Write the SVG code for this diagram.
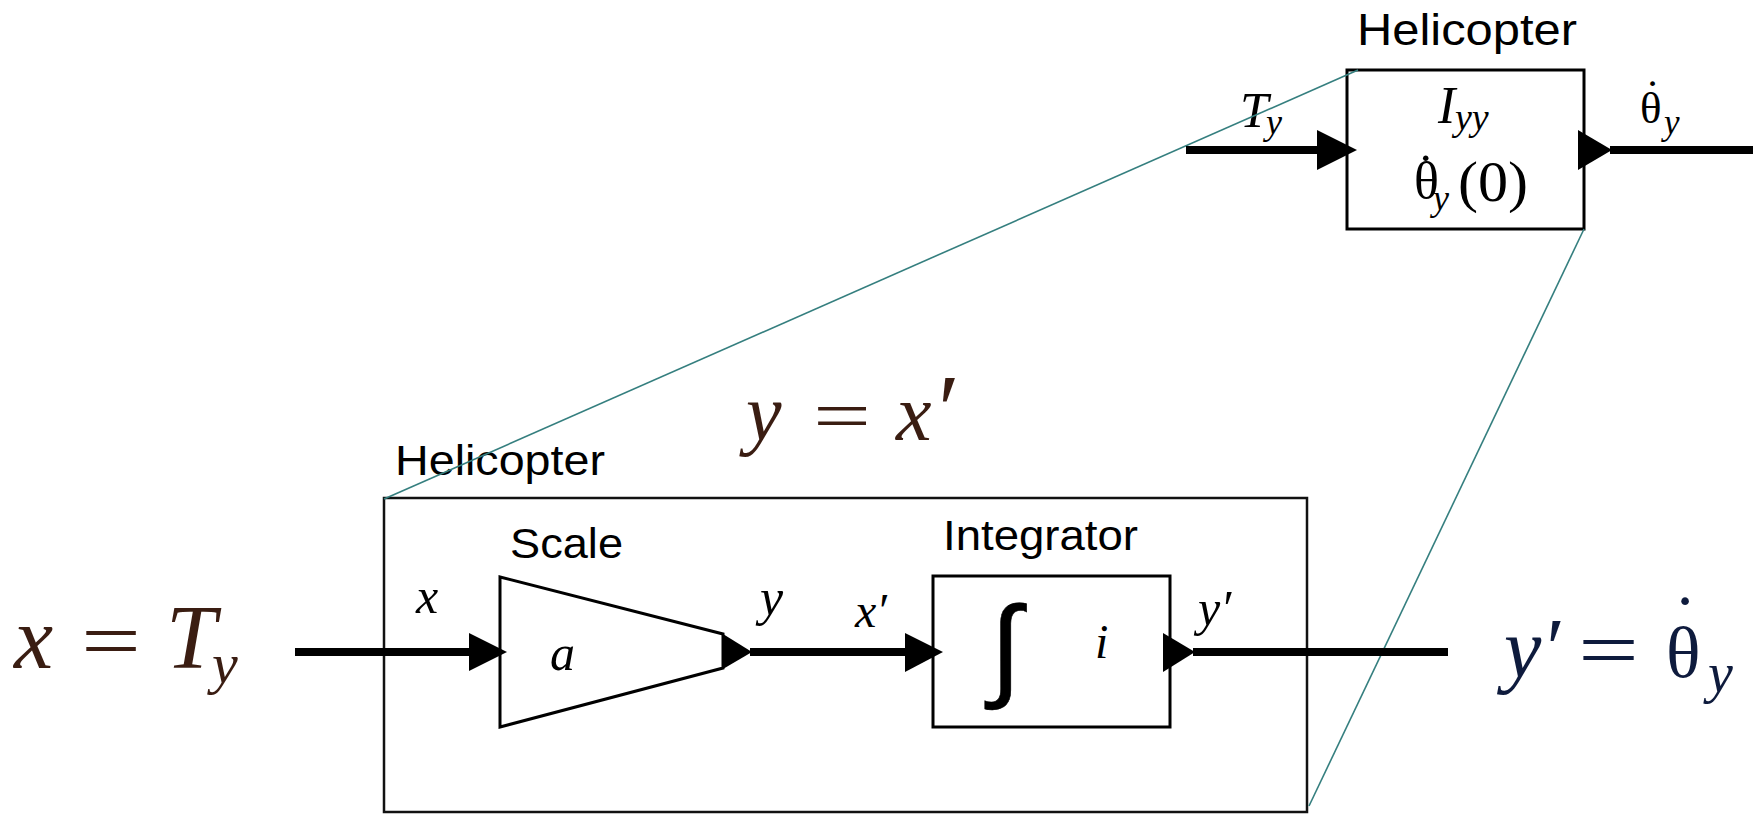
<svg xmlns="http://www.w3.org/2000/svg" width="1762" height="815" viewBox="0 0 1762 815">
<style>
.box{fill:none;stroke:#000;stroke-width:3}
.big{fill:none;stroke:#111;stroke-width:2.5}
.wire{stroke:#000;stroke-width:8;fill:none}
.head{fill:#000}
.teal{stroke:#357f7f;stroke-width:1.6;fill:none}
.sans{font-family:"Liberation Sans",Arial,sans-serif}
.math{font-family:"Liberation Serif","Times New Roman",serif}
.it{font-style:italic}
.up{font-style:normal}
.brown{fill:#3a1d12}
.navy{fill:#0e1b3d}
</style>
<rect width="1762" height="815" fill="#fff"/>

<g id="top-helicopter">
  <rect class="box" x="1347" y="70" width="237" height="159"/>
  <text class="sans" x="1357" y="45" font-size="45" textLength="220" lengthAdjust="spacingAndGlyphs">Helicopter</text>
  <text class="math it" x="1438" y="123" font-size="52">I<tspan x="1455" y="130" font-size="38">yy</tspan></text>
  <text class="math" x="1414" y="198" font-size="52">θ<tspan x="1417" y="191">˙</tspan><tspan class="it" x="1433" y="210" font-size="36">y</tspan></text>
  <text class="math" x="1458" y="201" font-size="56" textLength="70" lengthAdjust="spacingAndGlyphs">(0)</text>
</g>

<g id="top-labels">
  <text class="math it" x="1240" y="127" font-size="51">T<tspan x="1266" y="134" font-size="36">y</tspan></text>
  <text class="math" x="1640" y="123" font-size="45">θ<tspan x="1645" y="111">˙</tspan><tspan class="it" x="1664" y="134" font-size="35">y</tspan></text>
</g>

<g id="bottom-helicopter">
  <rect class="big" x="384" y="498" width="923" height="314"/>
  <text class="sans" x="395" y="475" font-size="42" textLength="210" lengthAdjust="spacingAndGlyphs">Helicopter</text>
</g>

<g id="scale">
  <polygon class="box" points="500,577 723,634 723,668 500,727"/>
  <text class="sans" x="510" y="558" font-size="42" textLength="113" lengthAdjust="spacingAndGlyphs">Scale</text>
  <text class="math it" x="550" y="670" font-size="50">a</text>
</g>

<g id="integrator">
  <rect class="box" x="933" y="576" width="237" height="151"/>
  <text class="sans" x="990" y="686" font-size="113" stroke="#000" stroke-width="0.6">∫</text>
  <text class="sans" x="943" y="550" font-size="42" textLength="195" lengthAdjust="spacingAndGlyphs">Integrator</text>
  <text class="math it" x="1095" y="658" font-size="48">i</text>
</g>

<g id="equations">
  <text class="math it brown" x="14" y="668" font-size="88">x</text>
  <text class="math brown" x="81" y="668" font-size="80" textLength="60" lengthAdjust="spacingAndGlyphs">=</text>
  <text class="math it brown" x="166" y="668" font-size="90">T<tspan x="212" y="683" font-size="58">y</tspan></text>

  <text class="math it brown" x="746" y="440" font-size="80">y</text>
  <text class="math brown" x="813" y="440" font-size="72" textLength="58" lengthAdjust="spacingAndGlyphs">=</text>
  <text class="math it brown" x="896" y="440" font-size="80">x<tspan class="up" x="938" y="443" font-size="100">′</tspan></text>

  <text class="math it navy" x="1504" y="677" font-size="84">y′</text>
  <text class="math navy" x="1578" y="677" font-size="80" textLength="61" lengthAdjust="spacingAndGlyphs">=</text>
  <text class="math navy" x="1666" y="677" font-size="72">θ<tspan x="1673" y="645">˙</tspan><tspan class="it" x="1708" y="692" font-size="56">y</tspan></text>
</g>

<g id="signal-labels">
  <text class="math it" x="416" y="613" font-size="50">x</text>
  <text class="math it" x="760" y="615" font-size="52">y</text>
  <text class="math it" x="855" y="627" font-size="48">x′</text>
  <text class="math it" x="1198" y="625" font-size="50">y′</text>
</g>

<g id="connectors">
  <line class="teal" x1="1358" y1="70" x2="384" y2="499"/>
  <line class="teal" x1="1584" y1="229" x2="1309" y2="806"/>
  <line class="wire" x1="1186" y1="150" x2="1320" y2="150"/>
  <polygon class="head" points="1317,130 1357,150 1317,170"/>
  <polygon class="head" points="1578,130 1612,150 1578,170"/>
  <line class="wire" x1="1610" y1="150" x2="1753" y2="150"/>
  <line class="wire" x1="295" y1="652" x2="472" y2="652"/>
  <polygon class="head" points="469,633 507,652 469,671"/>
  <polygon class="head" points="723,634 752,652 723,669"/>
  <line class="wire" x1="750" y1="652" x2="908" y2="652"/>
  <polygon class="head" points="905,633 943,652 905,672"/>
  <polygon class="head" points="1163,633 1195,652 1163,672"/>
  <line class="wire" x1="1193" y1="652" x2="1448" y2="652"/>
</g>
</svg>
